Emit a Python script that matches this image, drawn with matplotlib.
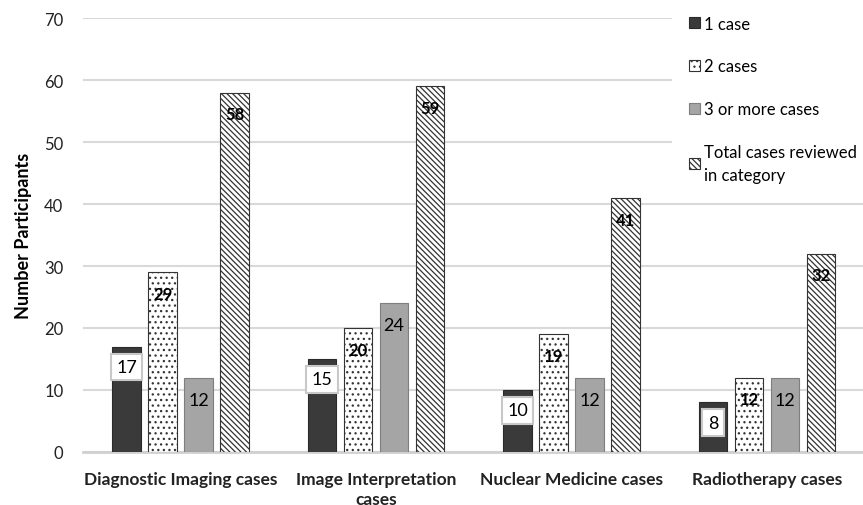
import matplotlib.pyplot as plt
import numpy as np

plt.rcParams['font.family'] = ['Lato', 'DejaVu Sans']
plt.rcParams['hatch.linewidth'] = 0.9

categories = ['Diagnostic Imaging cases', 'Image Interpretation\ncases',
              'Nuclear Medicine cases', 'Radiotherapy cases']
one_case = [17, 15, 10, 8]
two_cases = [29, 20, 19, 12]
three_plus = [12, 24, 12, 12]
total_reviewed = [58, 59, 41, 32]

dark = '#3a3a3a'
grey = '#a5a5a5'
grid_grey = '#d9d9d9'

fig = plt.figure(figsize=(8.63, 5.06), dpi=100)
ax = fig.add_axes([0.096, 0.105, 0.906, 0.857])

x = np.arange(len(categories))
w = 0.146
step = 0.184
offs = np.array([-1.5, -0.5, 0.5, 1.5]) * step

b1 = ax.bar(x + offs[0], one_case, w, color=dark, edgecolor='#2a2a2a',
            linewidth=0.8, label='1 case', zorder=3)
b2 = ax.bar(x + offs[1], two_cases, w, color='white', edgecolor='#333333',
            linewidth=0.8, hatch='...', label='2 cases', zorder=3)
b3 = ax.bar(x + offs[2], three_plus, w, color=grey, edgecolor='#7f7f7f',
            linewidth=0.8, label='3 or more cases', zorder=3)
b4 = ax.bar(x + offs[3], total_reviewed, w, color='white', edgecolor='#333333',
            linewidth=0.8, hatch='\\\\\\\\\\\\', label='Total cases reviewed\nin category',
            zorder=3)

# value labels sit just inside the top of each bar
for rect, v in zip(b1, one_case):
    ax.text(rect.get_x() + rect.get_width() / 2, v - 3.3, str(v),
            ha='center', va='center', fontsize=13, color='black', zorder=5,
            bbox=dict(boxstyle='square,pad=0.3', fc='white', ec='#c8c8c8', lw=1.5))
for rect, v in zip(b2, two_cases):
    ax.text(rect.get_x() + rect.get_width() / 2, v - 3.5, str(v),
            ha='center', va='center', fontsize=12, fontweight='bold', zorder=5)
for rect, v in zip(b3, three_plus):
    ax.text(rect.get_x() + rect.get_width() / 2, v - 3.6, str(v),
            ha='center', va='center', fontsize=13, zorder=5)
for rect, v in zip(b4, total_reviewed):
    ax.text(rect.get_x() + rect.get_width() / 2, v - 3.5, str(v),
            ha='center', va='center', fontsize=12, fontweight='bold', zorder=5)

ax.set_xlim(-0.5, 3.5)
ax.set_ylim(0, 70)
ax.set_yticks(range(0, 71, 10))
ax.yaxis.grid(True, color=grid_grey, linewidth=1.5, zorder=0)
ax.set_axisbelow(True)
for s in ['top', 'right', 'left']:
    ax.spines[s].set_visible(False)
ax.spines['bottom'].set_color('#d0d0d0')
ax.spines['bottom'].set_linewidth(2)
ax.tick_params(axis='both', length=0, labelsize=12, colors='#222222')
ax.tick_params(axis='y', pad=14)
ax.tick_params(axis='x', pad=14)
ax.set_xticks(x)
ax.set_xticklabels(categories, fontweight='bold', fontsize=12.5, linespacing=1.25)
ax.set_ylabel('Number Participants', fontweight='bold', fontsize=13, labelpad=9)

leg = fig.legend(loc='upper left', bbox_to_anchor=(0.779, 1.0), fontsize=12,
                 frameon=True, fancybox=False, edgecolor='none', facecolor='white',
                 framealpha=1, handlelength=0.65, handleheight=0.65, handletextpad=0.25,
                 labelspacing=1.6, borderpad=1.0, borderaxespad=0)
leg.get_texts()[3].set_linespacing(1.55)
leg.set_zorder(10)

fig.savefig('out.png', dpi=100)
